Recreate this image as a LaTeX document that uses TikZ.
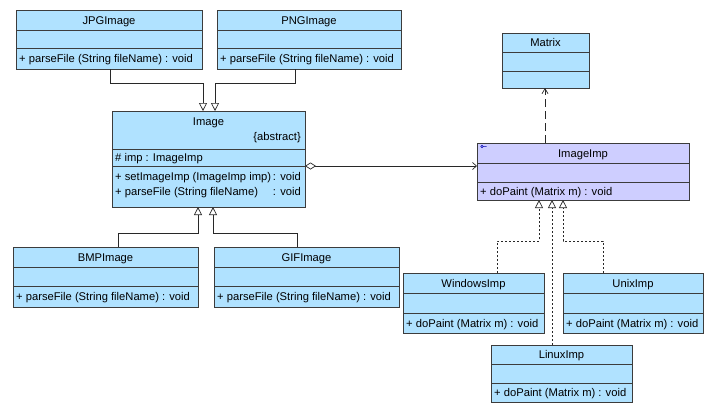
\documentclass[tikz,border=0pt]{standalone}
\usepackage{fontspec}
\setmainfont{Liberation Sans}
\usetikzlibrary{arrows.meta,calc}
\definecolor{cfill}{RGB}{176,226,255}
\definecolor{ifill}{RGB}{206,206,255}
\definecolor{bline}{RGB}{60,60,60}
\definecolor{cline}{RGB}{40,40,40}
\newcommand\ubox[8]{%
  \node[boxst,fill=#8,minimum width={(#4-#2)*1pt},minimum height={(#5-#3)*1pt},anchor=north west] (#1) at (#2,#3) {};
  \draw[bline,line width=0.8pt] (#2,#6) -- (#4,#6) (#2,#7) -- (#4,#7);
}
\begin{document}
\begin{tikzpicture}[x=1pt,y=-1pt,
  boxst/.style={draw=bline,line width=0.9pt,inner sep=0pt,outer sep=0pt},
  txt/.style={inner sep=0pt,text height=8pt,text depth=0pt,font=\fontsize{11.2}{13}\selectfont,text=black},
  gen/.style={draw=cline,line width=0.7pt,-{Triangle[open,length=8pt,width=8pt,fill=white]}},
  real/.style={gen,dash pattern=on 2pt off 2pt}]
\useasboundingbox[fill=white] (0,0) rectangle (717,408);

% boxes
\ubox{jpg}{16}{10}{202}{69}{30}{48}{cfill}
\node[txt] (jpgt) at (109,20) {JPGImage};
\node[txt,anchor=west] (jpgm) at (19,58.5) {+ parseFile (String fileName) : void};

\ubox{png}{217}{10}{401}{69}{30}{48}{cfill}
\node[txt] (pngt) at (309,20) {PNGImage};
\node[txt,anchor=west] (pngm) at (220,58.5) {+ parseFile (String fileName) : void};

\ubox{img}{112}{111}{305}{207}{149}{166}{cfill}
\node[txt] (imgt) at (208.5,121) {Image};
\node[txt,anchor=east] (imga) at (301,136) {\{abstract\}};
\node[txt,anchor=west] (imgat) at (115,157.5) {\# imp : ImageImp};
\node[txt,anchor=west] (imgm1) at (115,176) {+ setImageImp (ImageImp imp)};
\node[txt,anchor=east] (imgv1) at (301,176) {: void};
\node[txt,anchor=west] (imgm2) at (115,191) {+ parseFile (String fileName)};
\node[txt,anchor=east] (imgv2) at (301,191) {: void};

\ubox{bmp}{13}{247}{198}{307}{267}{286}{cfill}
\node[txt] (bmpt) at (105.5,257) {BMPImage};
\node[txt,anchor=west] (bmpm) at (16,296.5) {+ parseFile (String fileName) : void};

\ubox{gif}{214}{247}{399}{307}{267}{286}{cfill}
\node[txt] (gift) at (306.5,257) {GIFImage};
\node[txt,anchor=west] (gifm) at (217,296.5) {+ parseFile (String fileName) : void};

\ubox{mat}{502}{33}{589}{88}{52}{71}{cfill}
\node[txt] (matt) at (545.5,42.5) {Matrix};

\ubox{imp}{477}{143}{689}{200}{163}{182}{ifill}
\node[txt] (impt) at (583,153) {ImageImp};
\node[txt,anchor=west] (impm) at (480,191) {+ doPaint (Matrix m) : void};
\draw[blue!70!black,line width=0.5pt] (482,146.5) circle (1.3) (483.3,146.5) -- (486.5,146.5);

\ubox{win}{403}{273}{544}{333}{293}{313}{cfill}
\node[txt] (wint) at (473.5,283) {WindowsImp};
\node[txt,anchor=west] (winm) at (406,323) {+ doPaint (Matrix m) : void};

\ubox{unx}{563}{273}{703}{333}{293}{313}{cfill}
\node[txt] (unxt) at (633,283) {UnixImp};
\node[txt,anchor=west] (unxm) at (566,323) {+ doPaint (Matrix m) : void};

\ubox{lin}{491}{345}{632}{402}{364}{383}{cfill}
\node[txt] (lint) at (561.5,354.5) {LinuxImp};
\node[txt,anchor=west] (linm) at (494,392.5) {+ doPaint (Matrix m) : void};

% generalizations
\draw[gen] ([xshift=94pt]jpg.south west) -- ++(0,14) -| ([xshift=91pt]img.north west);
\draw[gen] ([xshift=78pt]png.south west) -- ++(0,14) -| ([xshift=103pt]img.north west);
\draw[gen] ([xshift=105pt]bmp.north west) -- ++(0,-14) -| ([xshift=86pt]img.south west);
\draw[gen] ([xshift=83pt]gif.north west) -- ++(0,-14) -| ([xshift=101pt]img.south west);

% aggregation
\draw[draw=cline,line width=0.7pt,{Diamond[open,length=11pt,width=7pt,fill=white]}-{Straight Barb[length=4pt,width=7pt]}]
  (img.east |- 0,166) -- (imp.west |- 0,166);

% dependency
\draw[draw=cline,line width=0.7pt,dash pattern=on 8pt off 4pt,-{Straight Barb[length=5pt,width=6pt]}]
  ([xshift=68pt]imp.north west) -- ([xshift=43pt]mat.south west);

% realizations
\draw[real] ([xshift=94pt]win.north west) -- ++(0,-32) -| ([xshift=62pt]imp.south west);
\draw[real] ([xshift=61pt]lin.north west) -- ([xshift=75pt]imp.south west);
\draw[real] ([xshift=40pt]unx.north west) -- ++(0,-32) -| ([xshift=86pt]imp.south west);
\end{tikzpicture}
\end{document}
